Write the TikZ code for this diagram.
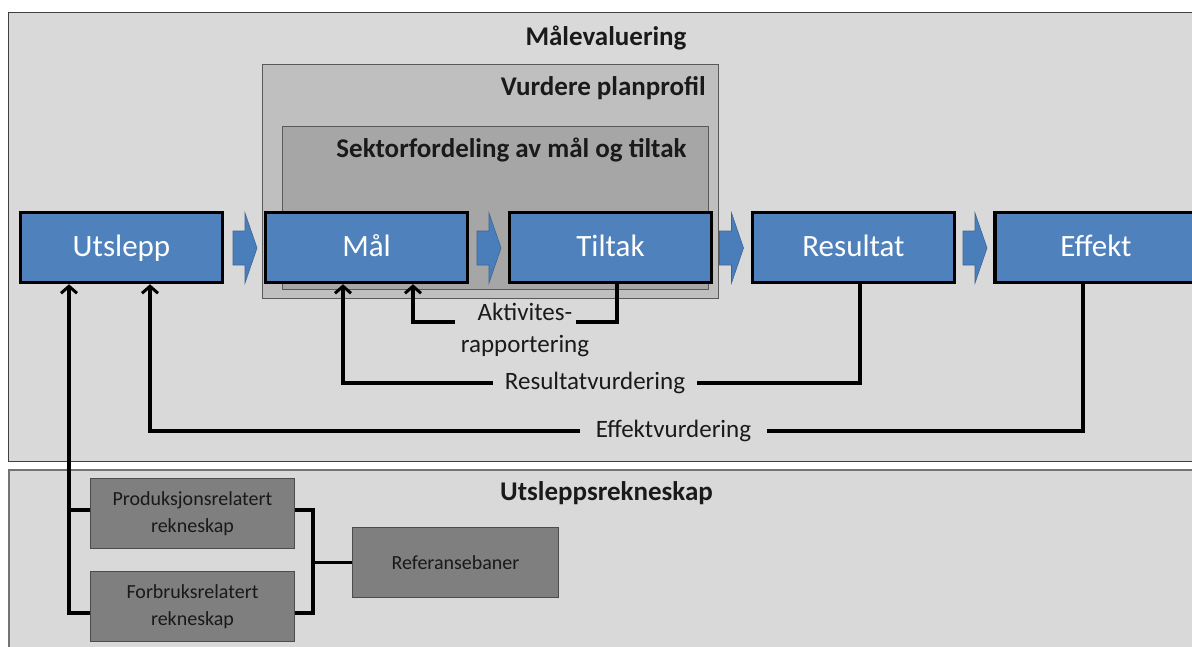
\documentclass[tikz,border=0pt]{standalone}
\usepackage{fontspec}
\setmainfont{Carlito}
\usetikzlibrary{arrows.meta}
\definecolor{panelbg}{HTML}{D9D9D9}
\definecolor{planbg}{HTML}{BFBFBF}
\definecolor{sektbg}{HTML}{A6A6A6}
\definecolor{stepblue}{HTML}{4F81BD}
\definecolor{chevblue}{HTML}{4A7EBB}
\definecolor{acctgray}{HTML}{7F7F7F}
\definecolor{inktext}{HTML}{1A1A1A}
\begin{document}
\begin{tikzpicture}[x=1pt,y=-1pt,
  panelbox/.style={draw=black!75,line width=1pt,fill=panelbg,inner sep=0pt,anchor=north west},
  groupbox/.style={draw=black!65,line width=1pt,inner sep=0pt,anchor=north west},
  heading/.style={font=\fontsize{27}{30}\selectfont\bfseries,text=inktext,inner sep=0pt},
  stepbox/.style={draw=black,line width=3.5pt,fill=stepblue,text=white,
    font=\fontsize{31}{34}\selectfont,text height=22pt,text depth=5pt,
    minimum width=202pt,minimum height=70pt,inner sep=0pt},
  acctbox/.style={draw=black!70,line width=1.2pt,fill=acctgray,text=black!90,
    font=\fontsize{20}{27}\selectfont,align=center,minimum width=204pt,minimum height=70pt,inner sep=0pt},
  conn/.style={line width=3.5pt,draw=black},
  tip/.style={-{Straight Barb[length=7pt,width=16pt,line width=3pt]}},
  flowlabel/.style={font=\fontsize{25}{32}\selectfont,text=inktext,fill=panelbg,inner ysep=2pt},
  chev/.pic={\fill[chevblue,draw=chevblue!80!black,line width=0.6pt]
    (-12,-17) -- (0,-17) -- (0,-35) -- (12,0) -- (0,35) -- (0,17) -- (-12,17) -- cycle;}
]
\useasboundingbox (0,0) rectangle (1192,646);

% panels
\node[panelbox,minimum width=1200pt,minimum height=449pt] (top) at (8,12) {};
\node[panelbox,draw=black!55,line width=2pt,minimum width=1200pt,minimum height=200pt] (bottom) at (8,469) {};

% nested planning frames
\node[groupbox,fill=planbg,minimum width=456pt,minimum height=234pt] (plan) at (262,64) {};
\node[groupbox,fill=sektbg,minimum width=426pt,minimum height=163pt] (sekt) at (282,126) {};

% headings
\node[heading] (hmal) at (606,38) {Målevaluering};
\node[heading,anchor=east] (hplan) at (706,88) {Vurdere planprofil};
\node[heading] (hsekt) at (511.5,150) {Sektorfordeling av mål og tiltak};
\node[heading] (hacct) at (606.5,493) {Utsleppsrekneskap};

% main chain
\node[stepbox] (uts) at (121.5,247.5) {Utslepp};
\node[stepbox] (mal) at (366.5,247.5) {Mål};
\node[stepbox] (til) at (610.5,247.5) {Tiltak};
\node[stepbox] (res) at (853.5,247.5) {Resultat};
\node[stepbox] (eff) at (1096,247.5) {Effekt};

\pic at (245,248) {chev};
\pic at (489,248) {chev};
\pic at (731.5,248) {chev};
\pic at (975,248) {chev};

% feedback loops
\draw[conn,tip] ([xshift=-13pt]eff.south) |- (150,431) -- ([xshift=28.5pt]uts.south);
\node[flowlabel,inner xsep=16pt] (leff) at (673.5,431) {Effektvurdering};

\draw[conn,tip] ([xshift=6.5pt]res.south) |- (343,383) -- ([xshift=-23.5pt]mal.south);
\node[flowlabel,inner xsep=12pt] (lres) at (595,383) {Resultatvurdering};

\coordinate (akr) at (576,322);
\coordinate (akl) at (455,322);
\draw[conn] ([xshift=6.5pt]til.south) |- (akr);
\draw[conn,tip] (akl) -| ([xshift=46.5pt]mal.south);
\node[font=\fontsize{25}{32}\selectfont,text=inktext,align=center,inner sep=0pt] (lakt) at (525,330) {Aktivites-\\rapportering};

% emission accounts
\node[acctbox] (prod) at (192.5,513.5) {Produksjonsrelatert\\rekneskap};
\node[acctbox] (forb) at (192.5,606.5) {Forbruksrelatert\\rekneskap};
\node[acctbox,minimum width=206pt] (ref) at (455.5,562.5) {Referansebaner};

\draw[conn,tip] ([yshift=-6.5pt]forb.west) -| ([xshift=-52.5pt]uts.south);
\draw[conn] ([yshift=3.5pt]prod.west) -| ([xshift=-52.5pt]uts.south |- forb.west);

\coordinate (jn) at (313,562.5);
\draw[conn] ([yshift=3.5pt]prod.east) -| (jn);
\draw[conn] ([yshift=-6.5pt]forb.east) -| (jn);
\draw[conn] (ref.west) -- (jn);
\end{tikzpicture}
\end{document}
